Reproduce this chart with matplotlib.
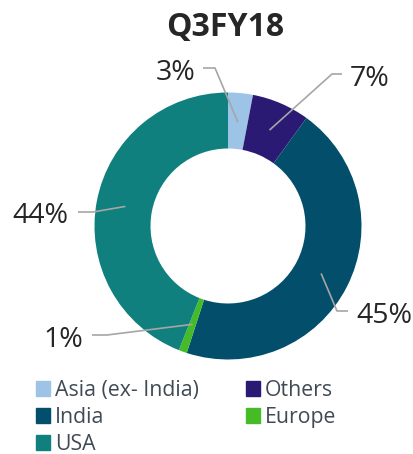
import numpy as np
import matplotlib
matplotlib.use('Agg')
import matplotlib.pyplot as plt

plt.rcParams['font.family'] = ['Open Sans', 'DejaVu Sans']

# ---- data ----
title = "Q3FY18"
regions = ["Asia (ex- India)", "Others", "India", "Europe", "USA"]
shares = [3, 7, 45, 1, 44]
colors = ["#9DC3E6", "#2B1A73", "#024E6B", "#44BB27", "#0F807E"]

# label layout (image pixel coords, y from top): text x, baseline y, ha, elbow, end
label_layout = [
    (195, 80, 'right', (215, 68), (203, 68)),
    (350, 86, 'left', (332, 74), (342, 74)),
    (356, 323, 'left', (337, 311), (348, 311)),
    (83, 347, 'right', (107, 335), (92, 335)),
    (68, 223, 'right', (93, 212), (78, 212)),
]

W, H = 414, 454
fig = plt.figure(figsize=(W / 100, H / 100), dpi=100)
ax = fig.add_axes([0, 0, 1, 1])

cx, cy = 228, H - 226
R, ring = 133.5, 56
wedges, _ = ax.pie(shares, colors=colors, startangle=90, counterclock=False,
                   center=(cx, cy), radius=R,
                   wedgeprops=dict(width=ring, linewidth=0))
ax.set_xlim(0, W)
ax.set_ylim(0, H)
ax.set_aspect('equal')
ax.axis('off')

fy = lambda y: H - y

# leader lines + percentage labels
for w, val, (tx, ty, ha, elbow, end) in zip(wedges, shares, label_layout):
    ang = np.deg2rad((w.theta1 + w.theta2) / 2)
    r_mid = R - ring / 2 - 1
    ax_, ay_ = cx + r_mid * np.cos(ang), cy + r_mid * np.sin(ang)
    ax.plot([ax_, elbow[0], end[0]], [ay_, fy(elbow[1]), fy(end[1])],
            color='#A6A6A6', lw=1.2, solid_capstyle='butt')
    ax.text(tx, fy(ty), f"{val}%", ha=ha, va='baseline', fontsize=20.5,
            color='#262626')

ax.text(225, fy(36), title, ha='center', va='baseline', fontsize=23,
        fontweight='bold', color='#262626')

# legend: column 1 Asia, India, USA; column 2 Others, Europe
order = [0, 2, 4, 1, 3]
handles = [plt.Rectangle((0, 0), 1, 1, color=colors[i]) for i in order]
labels = [regions[i] for i in order]
fig.legend(handles, labels, ncol=2, loc='upper left',
           bbox_to_anchor=(36 / W, 1 - 380 / H), frameon=False,
           fontsize=15.3, labelcolor='#404A55', handlelength=0.65,
           handleheight=0.65, handletextpad=0.25, columnspacing=2.2,
           labelspacing=0.28, borderpad=0, borderaxespad=0)

plt.savefig('out.png', dpi=100)
